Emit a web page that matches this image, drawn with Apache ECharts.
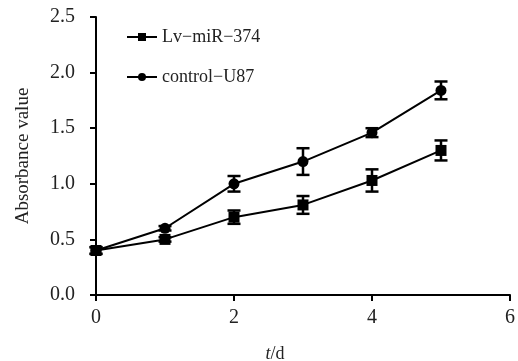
<!DOCTYPE html>
<html>
<head>
<meta charset="utf-8">
<script src="https://cdn.jsdelivr.net/npm/echarts@6/dist/echarts.min.js"></script>
<style>
  html, body { margin: 0; padding: 0; background: #fff; }
  #chart { width: 518px; height: 361px; }
</style>
</head>
<body>
<div id="chart"></div>
<script>
const days = [0, 1, 2, 3, 4, 5]
const lvMean = [0.40, 0.50, 0.70, 0.81, 1.03, 1.30]
const lvErr = [0.03, 0.02, 0.06, 0.08, 0.10, 0.09]
const ctrlMean = [0.40, 0.60, 1.00, 1.20, 1.46, 1.84]
const ctrlErr = [0.03, 0.02, 0.07, 0.12, 0.04, 0.08]
const yTicks = [0, 0.5, 1.0, 1.5, 2.0, 2.5]

const font = 'Liberation Serif, Times New Roman, serif'

const pts = (ys) => days.map((d, i) => [d, ys[i]])
const errData = (ys, es) => days.map((d, i) => [d, ys[i] - es[i], ys[i] + es[i]])

function errBars(params, api) {
  const lo = api.coord([api.value(0), api.value(1)])
  const hi = api.coord([api.value(0), api.value(2)])
  const w = 6.5
  const st = { stroke: '#000', lineWidth: 2.5 }
  return {
    type: 'group',
    children: [
      { type: 'line', shape: { x1: lo[0], y1: lo[1], x2: hi[0], y2: hi[1] }, style: st },
      { type: 'line', shape: { x1: lo[0] - w, y1: lo[1], x2: lo[0] + w, y2: lo[1] }, style: st },
      { type: 'line', shape: { x1: hi[0] - w, y1: hi[1], x2: hi[0] + w, y2: hi[1] }, style: st }
    ]
  }
}

const chart = echarts.init(document.getElementById('chart'))
chart.setOption({
  animation: false,
  textStyle: { fontFamily: font, color: '#222' },
  grid: { left: 96, right: 8, top: 17, bottom: 66, outerBoundsMode: 'none', containLabel: false },
  legend: {
    orient: 'vertical',
    left: 121,
    top: 23,
    itemGap: 22,
    itemWidth: 30,
    itemHeight: 10,
    textStyle: { fontFamily: font, fontSize: 18, color: '#222' },
    data: ['Lv−miR−374', 'control−U87']
  },
  xAxis: {
    type: 'value',
    min: 0,
    max: 6,
    interval: 2,
    name: '{i|t}/d',
    nameLocation: 'middle',
    nameGap: 50,
    nameTextStyle: {
      fontFamily: font, fontSize: 18, color: '#222',
      padding: [0, 56, 0, 0],
      rich: { i: { fontStyle: 'italic', fontFamily: font, fontSize: 18, color: '#222' } }
    },
    axisLine: { lineStyle: { color: '#000', width: 2 } },
    axisTick: { show: true, length: 6, inside: false, lineStyle: { color: '#000', width: 2 } },
    axisLabel: { fontSize: 20, margin: 13, color: '#222', fontFamily: font },
    splitLine: { show: false }
  },
  yAxis: {
    type: 'value',
    min: 0,
    max: 2.5,
    interval: 0.5,
    name: 'Absorbance value',
    nameLocation: 'middle',
    nameGap: 63,
    nameTextStyle: { fontFamily: font, fontSize: 19, color: '#222' },
    axisLine: { show: true, lineStyle: { color: '#000', width: 2 } },
    axisTick: { show: true, length: 6, lineStyle: { color: '#000', width: 2 } },
    axisLabel: {
      fontSize: 20, margin: 21, color: '#222', fontFamily: font,
      formatter: (v) => yTicks.includes(v) ? v.toFixed(1) : ''
    },
    splitLine: { show: false }
  },
  series: [
    {
      name: 'Lv−miR−374',
      type: 'line',
      data: pts(lvMean),
      symbol: 'rect',
      symbolSize: 11,
      itemStyle: { color: '#000' },
      lineStyle: { color: '#000', width: 2 },
      z: 3
    },
    {
      name: 'control−U87',
      type: 'line',
      data: pts(ctrlMean),
      symbol: 'circle',
      symbolSize: 11,
      itemStyle: { color: '#000' },
      lineStyle: { color: '#000', width: 2 },
      z: 3
    },
    {
      type: 'custom',
      renderItem: errBars,
      data: errData(lvMean, lvErr),
      encode: { x: 0, y: [1, 2] },
      z: 4
    },
    {
      type: 'custom',
      renderItem: errBars,
      data: errData(ctrlMean, ctrlErr),
      encode: { x: 0, y: [1, 2] },
      z: 4
    }
  ]
})
</script>
</body>
</html>
